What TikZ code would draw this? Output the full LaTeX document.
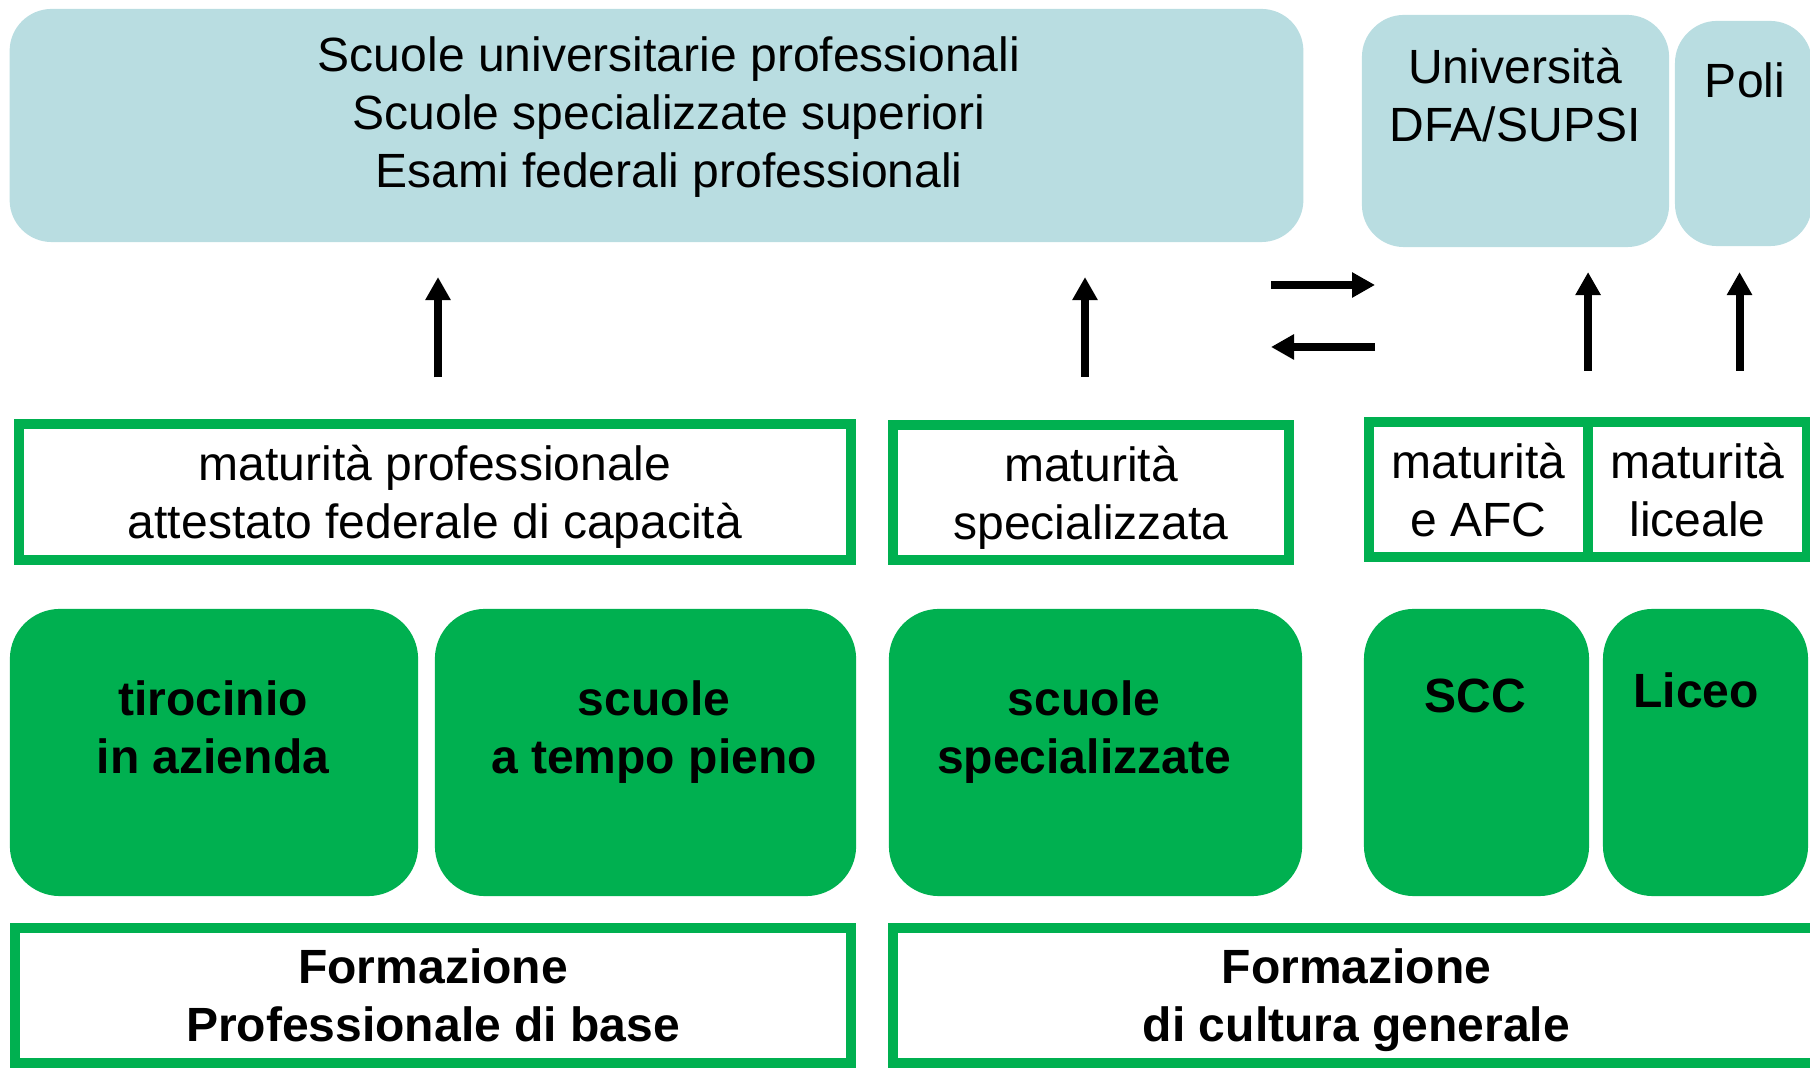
\documentclass[tikz,border=0pt]{standalone}
\usepackage{fontspec}
\setmainfont{Liberation Sans}
\usetikzlibrary{arrows.meta,calc}
\definecolor{sky}{RGB}{185,221,225}
\definecolor{grn}{RGB}{0,176,80}

\begin{document}
\begin{tikzpicture}[x=0.01cm, y=-0.01cm,
  every node/.style={font=\fontsize{13.66}{16.5}\selectfont, align=center, inner sep=0pt, outer sep=0pt},
  skybox/.style={fill=sky, rounded corners=0.42cm},
  matbox/.style={draw=grn, line width=0.1cm, minimum height=1.35cm, text depth=0pt},
  schoolbox/.style={fill=grn, rounded corners=0.5cm, minimum height=2.87cm},
  schooltext/.style={anchor=north, font=\fontsize{13.66}{16.5}\selectfont\bfseries},
  basebox/.style={draw=grn, line width=0.1cm, minimum height=1.35cm, text depth=0pt, font=\fontsize{13.66}{16.5}\selectfont\bfseries},
  up/.style={line width=0.08cm, -{Triangle[length=0.23cm, width=0.24cm]}}]

\useasboundingbox (0,0) rectangle (1810,1068);

% top row
\node[skybox, minimum width=12.93cm, minimum height=2.33cm] (hs) at (656.5,125.5) {};
\node[anchor=north] (hstext) at (669,37) {Scuole universitarie professionali\\Scuole specializzate superiori\\Esami federali professionali};

\node[skybox, minimum width=3.07cm, minimum height=2.32cm] (uni) at (1515.5,131) {};
\node[anchor=north] (unitext) at (1515,48) {Università\\DFA/SUPSI};

\node[skybox, minimum width=1.37cm, minimum height=2.25cm] (poli) at (1743.5,133.5) {};
\node[anchor=north] (politext) at (1745,63) {Poli};

% diplomi
\node[matbox, minimum width=8.32cm] (matprof) at (435,492) {maturità professionale\\attestato federale di capacità};
\node[matbox, minimum width=3.96cm] (matspec) at (1091,492.5) {maturità\\specializzata};
\node[matbox, minimum width=2.19cm] (matafc) at (1478.5,489.5) {maturità\\e AFC};
\node[matbox, minimum width=2.19cm] (matlic) at (1697.5,489.5) {maturità\\liceale};

% scuole
\node[schoolbox, minimum width=4.08cm] (tiro) at (214,752.5) {};
\node[schooltext] (tirotext) at (213,681) {tirocinio\\in azienda};

\node[schoolbox, minimum width=4.21cm] (tempo) at (645.5,752.5) {};
\node[schooltext] (tempotext) at (654,681) {scuole\\a tempo pieno};

\node[schoolbox, minimum width=4.13cm] (spec) at (1095.5,752.5) {};
\node[schooltext] (spectext) at (1084,681) {scuole\\specializzate};

\node[schoolbox, minimum width=2.25cm] (scc) at (1476.5,752.5) {};
\node[schooltext] (scctext) at (1475,679) {SCC};

\node[schoolbox, minimum width=2.05cm] (liceo) at (1705.5,752.5) {};
\node[schooltext] (liceotext) at (1696,673) {Liceo};

% formazione
\node[basebox, minimum width=8.36cm] (fpb) at (433,995.5) {Formazione\\Professionale di base};
\node[basebox, minimum width=9.27cm] (fcg) at (1356.5,995.5) {Formazione\\di cultura generale};

% frecce
\draw[up, shorten <=0.47cm, shorten >=0.35cm] ($(matprof.north)+(3,0)$) -- ($(matprof.north |- hs.south)+(3,0)$);
\draw[up, shorten <=0.48cm, shorten >=0.35cm] ($(matspec.north)+(-6,0)$) -- ($(matspec.north |- hs.south)+(-6,0)$);
\draw[up, shorten <=0.51cm, shorten >=0.25cm] (matafc.north east) -- (matafc.north east |- uni.south);
\draw[up, shorten <=0.51cm, shorten >=0.26cm] ($(poli.south |- matlic.north)+(-4,0)$) -- ($(poli.south)+(-4,0)$);

\coordinate (passa) at (1271,285);
\coordinate (passb) at (1375,285);
\coordinate (passc) at (1375,347);
\coordinate (passd) at (1271,347);
\draw[up] (passa) -- (passb);
\draw[up] (passc) -- (passd);

\end{tikzpicture}
\end{document}
